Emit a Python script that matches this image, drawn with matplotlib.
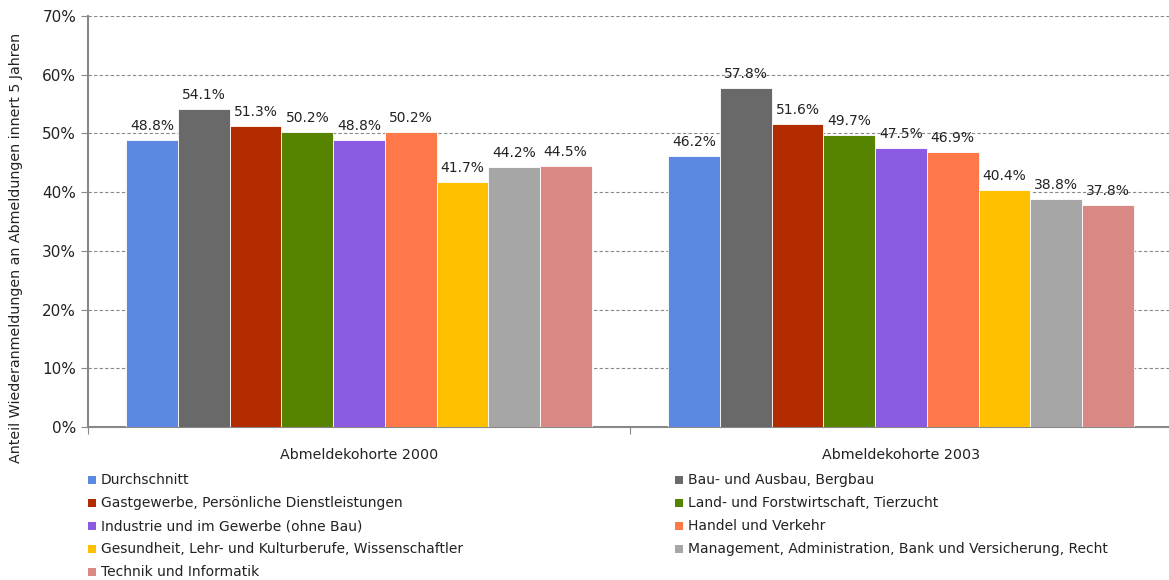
import matplotlib
matplotlib.use("Agg")
import matplotlib.pyplot as plt
import numpy as np
from matplotlib.patches import Rectangle

groups = ["Abmeldekohorte 2000", "Abmeldekohorte 2003"]
series = [
    "Durchschnitt",
    "Bau- und Ausbau, Bergbau",
    "Gastgewerbe, Persönliche Dienstleistungen",
    "Land- und Forstwirtschaft, Tierzucht",
    "Industrie und im Gewerbe (ohne Bau)",
    "Handel und Verkehr",
    "Gesundheit, Lehr- und Kulturberufe, Wissenschaftler",
    "Management, Administration, Bank und Versicherung, Recht",
    "Technik und Informatik",
]
values_2000 = [48.8, 54.1, 51.3, 50.2, 48.8, 50.2, 41.7, 44.2, 44.5]
values_2003 = [46.2, 57.8, 51.6, 49.7, 47.5, 46.9, 40.4, 38.8, 37.8]
colors = ["#5B88E0", "#696969", "#B32C00", "#568400", "#8A5AE0",
          "#FF7849", "#FFC000", "#A6A6A6", "#D98884"]

plt.rcParams['font.family'] = ['DejaVu Sans']
W, H = 1169, 580
fig = plt.figure(figsize=(W/100, H/100), dpi=100)
ax = fig.add_axes([88/W, 1-427/H, (1172-88)/W, (427-16)/H])

n = len(series)
gw = 0.858
bw = gw / n
x = np.arange(len(groups))
data = np.array([values_2000, values_2003])
for i in range(n):
    pos = x - gw/2 + bw*(i+0.5)
    ax.bar(pos, data[:, i], width=bw, color=colors[i], edgecolor='white',
           linewidth=0.6, zorder=3)
    for xb, v in zip(pos, data[:, i]):
        ax.text(xb, v + 1.2, f"{v:.1f}%", ha='center', va='bottom', fontsize=10,
                color='#222222', zorder=4)

ax.set_xlim(-0.5, 1.5)
ax.set_ylim(0, 70)
ax.set_yticks(np.arange(0, 71, 10))
ax.set_yticklabels([f"{v}%" for v in range(0, 71, 10)], fontsize=11, color='#222222')
ax.yaxis.grid(True, linestyle=(0, (3, 2)), color='#888888', linewidth=0.8, zorder=0)
ax.set_axisbelow(True)
ax.set_xticks([-0.5, 0.5])
ax.set_xticklabels([])
ax.tick_params(axis='x', length=5, color='#888888', direction='out')
ax.tick_params(axis='y', length=5, color='#888888', direction='out')
for g, xc in zip(groups, x):
    ax.text(xc, -3.5, g, ha='center', va='top', fontsize=10.3, color='#222222')
for s in ['top', 'right']:
    ax.spines[s].set_visible(False)
for s in ['left', 'bottom']:
    ax.spines[s].set_color('#888888')
    ax.spines[s].set_linewidth(1.5)

fig.text(16/W, 1-248/H, "Anteil Wiederanmeldungen an Abmeldungen innert 5 Jahren",
         rotation=90, ha='center', va='center', fontsize=10.3, color='#222222')

# legend, row-major in two columns
col_x = [88, 675]
row_y0 = 480
row_dy = 23
for i, (lab, c) in enumerate(zip(series, colors)):
    r, cidx = divmod(i, 2)
    lx = col_x[cidx]
    ly = row_y0 + r*row_dy
    fig.patches.append(Rectangle((lx/W, 1-(ly+4)/H), 8/W, 8/H, transform=fig.transFigure,
                                 facecolor=c, edgecolor='none'))
    fig.text((lx+13)/W, 1-ly/H, lab, ha='left', va='center', fontsize=10, color='#222222')

fig.savefig("out.png", dpi=100)
